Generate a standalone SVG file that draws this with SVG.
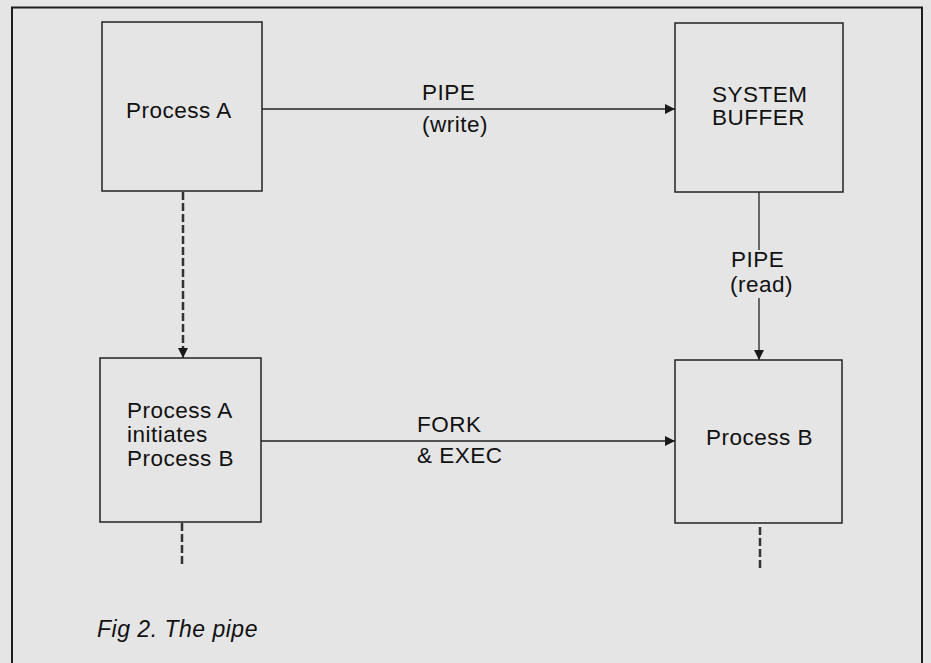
<svg xmlns="http://www.w3.org/2000/svg" width="931" height="663" viewBox="0 0 931 663">
<style>
.box{fill:none;stroke:#222;stroke-width:1.5}
.ln{fill:none;stroke:#222;stroke-width:1.3}
.dash{fill:none;stroke:#333;stroke-width:2.5;stroke-dasharray:8 3}
text{font-family:"Liberation Sans",Arial,sans-serif;font-size:22.5px;fill:#111;letter-spacing:0.5px}
.cap{font-style:italic;font-size:23px;letter-spacing:0.5px}
</style>
<defs>
<marker id="ah" viewBox="0 0 10 10" refX="10" refY="5" markerWidth="10" markerHeight="10" markerUnits="userSpaceOnUse" orient="auto">
<path d="M0,0 L10,5 L0,10 z" fill="#1a1a1a"/>
</marker>
</defs>
<rect width="931" height="663" fill="#e5e5e5"/>
<path d="M12,663 V7.5 H922 V663" fill="none" stroke="#1e1e1e" stroke-width="2"/>
<g id="processA">
<rect class="box" x="102" y="22" width="160" height="169"/>
<text x="126" y="118">Process A</text>
</g>
<g id="systemBuffer">
<rect class="box" x="675" y="23" width="168" height="169"/>
<text x="712" y="102">SYSTEM</text>
<text x="712" y="125">BUFFER</text>
</g>
<g id="processAinit">
<rect class="box" x="100" y="358" width="161" height="164"/>
<text x="127" y="418">Process A</text>
<text x="127" y="442">initiates</text>
<text x="127" y="466">Process B</text>
</g>
<g id="processB">
<rect class="box" x="675" y="360" width="167" height="163"/>
<text x="706" y="445">Process B</text>
</g>
<g id="connectors">
<line class="ln" x1="262" y1="109" x2="675" y2="109" marker-end="url(#ah)"/>
<text x="422" y="100">PIPE</text>
<text x="422" y="132">(write)</text>
<line class="ln" x1="759" y1="192" x2="759" y2="250"/>
<line class="ln" x1="759" y1="298" x2="759" y2="360" marker-end="url(#ah)"/>
<text x="731" y="267">PIPE</text>
<text x="730" y="292">(read)</text>
<line class="ln" x1="261" y1="441" x2="675" y2="441" marker-end="url(#ah)"/>
<text x="417" y="432">FORK</text>
<text x="417" y="463">&amp; EXEC</text>
<line class="dash" x1="183" y1="192" x2="183" y2="350"/>
<line class="ln" x1="183" y1="348" x2="183" y2="358" marker-end="url(#ah)"/>
<line class="dash" x1="182" y1="523" x2="182" y2="564"/>
<line class="dash" x1="760" y1="527" x2="760" y2="569"/>
</g>
<text class="cap" x="97" y="637">Fig 2. The pipe</text>
</svg>
